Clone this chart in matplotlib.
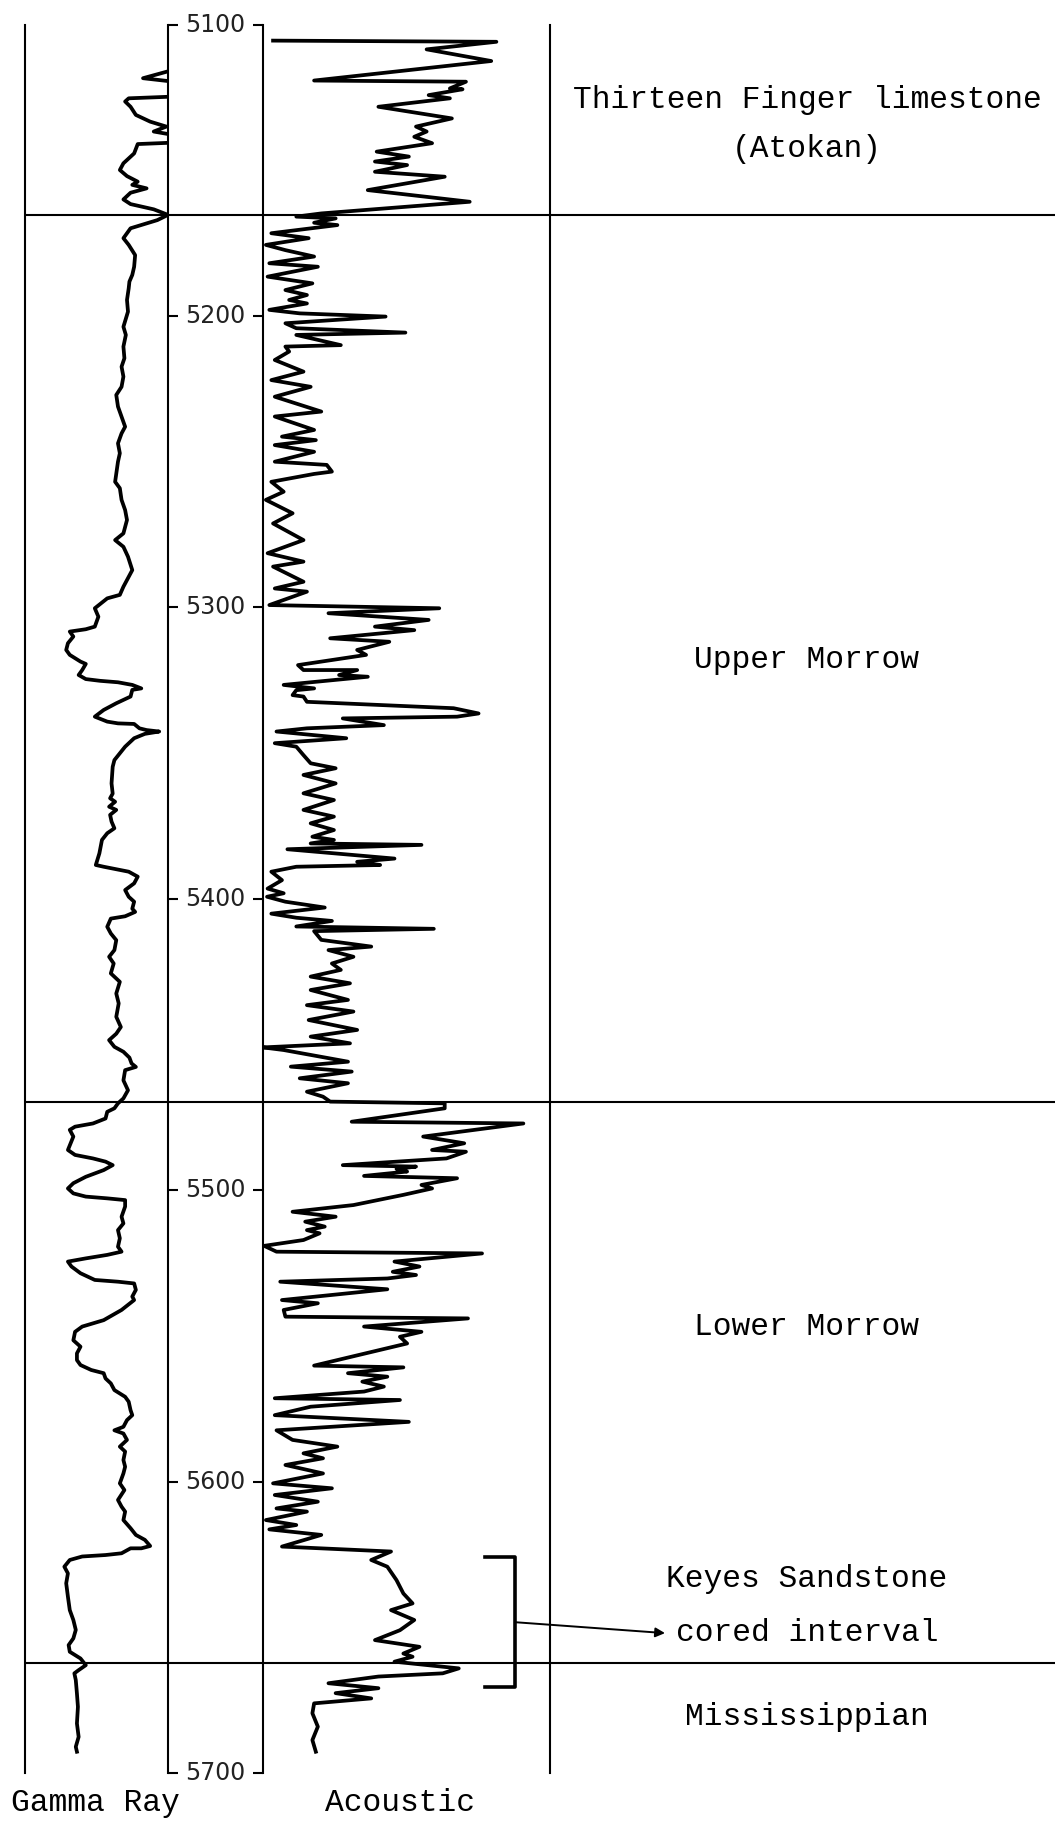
import matplotlib.pyplot as plt

gr_depth = [5116.2, 5118.4, 5119.6, 5124.7, 5125.3, 5126.4, 5128.2, 5131.0, 5133.3, 5135.0,
            5136.7, 5137.9, 5140.5, 5141.0, 5144.2, 5147.6, 5149.9, 5152.0, 5153.9, 5155.0,
            5156.2, 5157.7, 5160.0, 5161.6, 5163.4, 5165.3, 5167.1, 5169.9, 5173.3, 5175.6,
            5179.1, 5183.1, 5185.9, 5188.2, 5190.5, 5194.5, 5198.5, 5203.7, 5206.5, 5210.5,
            5214.5, 5217.4, 5220.8, 5224.3, 5227.1, 5231.1, 5234.5, 5238.0, 5240.3, 5243.7,
            5247.1, 5250.0, 5254.0, 5256.9, 5259.1, 5263.1, 5266.6, 5270.0, 5274.6, 5276.9,
            5279.2, 5282.6, 5287.2, 5289.5, 5292.9, 5295.7, 5296.9, 5300.3, 5303.2, 5306.6,
            5307.5, 5308.3, 5310.0, 5312.3, 5314.6, 5316.3, 5318.6, 5319.4, 5321.5, 5323.2,
            5324.6, 5325.2, 5325.7, 5326.6, 5327.8, 5328.3, 5330.6, 5332.9, 5335.2, 5337.5,
            5339.2, 5339.8, 5340.0, 5341.5, 5342.1, 5342.6, 5343.4, 5344.9, 5347.8, 5352.4,
            5354.7, 5360.4, 5363.9, 5365.5, 5366.7, 5368.4, 5369.5, 5371.2, 5373.5, 5375.8,
            5377.5, 5379.8, 5384.4, 5388.4, 5389.0, 5390.7, 5392.4, 5394.7, 5397.0, 5399.3,
            5401.0, 5403.4, 5404.5, 5406.0, 5406.8, 5409.6, 5411.9, 5414.2, 5417.6, 5419.9,
            5422.2, 5425.6, 5428.5, 5432.5, 5435.9, 5440.5, 5444.0, 5446.3, 5448.5, 5450.8,
            5452.5, 5454.5, 5456.5, 5457.7, 5458.8, 5462.3, 5465.7, 5468.5, 5470.2, 5471.9,
            5473.1, 5475.4, 5477.1, 5478.2, 5479.3, 5481.6, 5486.2, 5487.9, 5489.1, 5490.2,
            5491.4, 5493.1, 5495.4, 5497.6, 5499.4, 5501.1, 5502.2, 5502.8, 5503.4, 5505.6,
            5509.1, 5511.4, 5513.7, 5516.5, 5519.4, 5521.1, 5522.2, 5523.4, 5524.5, 5526.2,
            5528.5, 5530.8, 5531.4, 5532.0, 5534.2, 5536.5, 5537.7, 5541.1, 5544.6, 5546.8,
            5548.6, 5551.5, 5553.7, 5556.0, 5558.3, 5560.0, 5561.7, 5562.8, 5564.6, 5566.3,
            5568.6, 5570.9, 5572.6, 5575.5, 5577.2, 5578.9, 5581.2, 5582.4, 5583.5, 5585.7,
            5588.0, 5589.7, 5592.6, 5594.9, 5597.2, 5600.6, 5602.9, 5606.3, 5608.6, 5610.3,
            5613.2, 5616.0, 5618.3, 5620.0, 5622.1, 5622.9, 5622.9, 5624.6, 5625.2, 5625.7,
            5626.9, 5629.2, 5631.5, 5634.9, 5639.5, 5644.1, 5647.5, 5650.9, 5653.8, 5656.1,
            5658.4, 5660.7, 5663.0, 5664.7, 5665.8, 5668.1, 5672.7, 5677.3, 5683.0, 5687.6,
            5691.0, 5692.7]
gr_value = [98.8, 82.5, 104, 104, 72.5, 70, 73.8, 77.5, 87.5, 98.8,
            90, 104, 104, 78.8, 76.3, 68.8, 66.3, 71.3, 78.8, 75,
            85, 73.8, 68.8, 73.8, 90, 100, 92.5, 73.8, 68.8, 72.5,
            77, 76.3, 75, 73, 72.5, 71.3, 72, 68.8, 70.5, 68.8,
            69.5, 67.5, 68.8, 67.5, 63.8, 65, 67.5, 70, 67.5, 65,
            66.3, 65, 63.8, 63, 66.3, 67.5, 70, 71.3, 68.8, 63,
            68.8, 72, 75, 72.5, 68.8, 66.3, 57.5, 48.8, 51.3, 48.8,
            42.5, 31.3, 33.8, 30, 28.8, 31.3, 38.8, 42.5, 40, 37.5,
            42.5, 52.5, 65, 75, 81.3, 75, 73.8, 63.8, 55, 48.8,
            57.5, 65, 76.3, 80, 85, 93.8, 83.8, 76.3, 70, 62.5,
            61.3, 60.5, 61.3, 59.5, 63, 58.8, 63.8, 59.5, 60.5, 62.5,
            57.5, 53.8, 52, 49.5, 55, 72.5, 78.8, 76.3, 70, 72.5,
            76.3, 75, 77, 70, 60, 57.5, 60, 63.8, 62.5, 58.8,
            62, 60, 66.3, 63.8, 65.5, 63.8, 67, 63.8, 58.8, 62.5,
            68.8, 73, 74.5, 77.5, 70, 68.8, 72, 68.8, 65, 62.5,
            57.5, 56.3, 47.5, 35, 31.3, 33.8, 30, 35, 47.5, 56.3,
            61.3, 55, 42.5, 33.8, 30, 33.8, 42.5, 57.5, 70, 70,
            67.5, 68.8, 65, 66.3, 65, 67.5, 57.5, 42.5, 30, 32.5,
            38.8, 48.8, 65, 76.3, 77.5, 75, 76.3, 67.5, 55, 40,
            35, 33.8, 38.8, 36.3, 36.3, 38.8, 46.3, 55, 56.3, 60,
            62.5, 70, 72.5, 73.8, 75, 71.3, 68.8, 62.5, 68.8, 71.3,
            66.3, 70, 68.8, 70, 68.8, 66.3, 69.5, 65, 67.5, 70,
            68.8, 73.8, 77.5, 83.8, 87.5, 81.3, 73.8, 67.5, 56.3, 40,
            31.3, 27.5, 30, 28.8, 30, 31.3, 33.8, 35.5, 33.8, 30.5,
            31.3, 38.8, 42.5, 37.5, 34.5, 35.5, 36.3, 37, 36.3, 37.5,
            35.5, 36.3]

ac_depth = [5105.5, 5105.9, 5108.5, 5112.5, 5119.2, 5119.6, 5121.9, 5122.2, 5124.2, 5125.3,
            5128.2, 5132.2, 5135.0, 5136.7, 5138.5, 5140.7, 5143.6, 5145.3, 5147.0, 5148.2,
            5150.5, 5152.2, 5156.8, 5160.8, 5164.8, 5165.9, 5166.5, 5168.0, 5168.8, 5171.6,
            5173.3, 5175.6, 5177.4, 5179.6, 5181.9, 5183.1, 5186.5, 5188.8, 5191.1, 5192.8,
            5194.5, 5195.7, 5197.9, 5199.1, 5200.2, 5202.5, 5204.2, 5205.7, 5206.5, 5210.0,
            5210.5, 5212.2, 5215.1, 5219.1, 5222.0, 5224.3, 5227.7, 5232.8, 5234.5, 5239.1,
            5241.4, 5242.6, 5244.3, 5246.6, 5250.0, 5251.1, 5253.4, 5254.2, 5256.9, 5260.3,
            5263.1, 5267.7, 5271.2, 5276.9, 5281.4, 5284.3, 5286.0, 5291.2, 5293.5, 5294.6,
            5299.2, 5300.3, 5302.0, 5304.3, 5306.6, 5307.8, 5310.6, 5311.8, 5314.6, 5316.3,
            5319.8, 5321.5, 5321.5, 5323.2, 5323.8, 5326.6, 5327.8, 5328.4, 5330.1, 5330.6,
            5332.4, 5334.6, 5336.4, 5337.5, 5338.1, 5340.4, 5341.5, 5342.6, 5344.9, 5346.6,
            5347.8, 5350.7, 5353.5, 5355.2, 5357.5, 5360.4, 5363.8, 5366.1, 5369.5, 5371.8,
            5374.1, 5376.4, 5378.7, 5379.8, 5381.0, 5381.5, 5383.0, 5386.2, 5387.3, 5388.4,
            5389.0, 5390.7, 5393.6, 5396.5, 5398.1, 5399.3, 5401.0, 5403.0, 5405.1, 5406.5,
            5407.6, 5409.5, 5410.3, 5411.1, 5414.1, 5416.4, 5417.6, 5419.9, 5422.2, 5424.4,
            5426.7, 5429.0, 5431.3, 5434.7, 5436.5, 5438.7, 5441.6, 5445.0, 5447.3, 5449.6,
            5451.0, 5451.9, 5455.9, 5457.6, 5459.3, 5461.6, 5463.3, 5466.2, 5467.9, 5469.6,
            5470.2, 5471.9, 5476.5, 5477.1, 5481.6, 5483.9, 5486.2, 5486.8, 5489.1, 5491.4,
            5491.9, 5492.7, 5493.6, 5495.1, 5495.9, 5498.2, 5499.4, 5501.6, 5505.1, 5507.4,
            5509.1, 5510.8, 5512.5, 5513.7, 5514.8, 5517.1, 5519.1, 5521.1, 5521.7, 5524.5,
            5526.2, 5528.0, 5529.1, 5530.3, 5531.4, 5534.0, 5537.7, 5538.8, 5541.1, 5543.4,
            5544.0, 5546.8, 5548.6, 5550.3, 5552.6, 5560.2, 5560.8, 5562.8, 5564.0, 5565.7,
            5567.4, 5569.1, 5571.4, 5572.0, 5574.3, 5577.2, 5579.5, 5582.4, 5585.7, 5588.0,
            5590.3, 5592.0, 5594.3, 5597.2, 5600.6, 5602.3, 5604.6, 5606.9, 5609.2, 5610.3,
            5613.2, 5614.9, 5616.4, 5618.3, 5622.3, 5624.0, 5626.9, 5629.2, 5633.8, 5638.4,
            5641.8, 5644.1, 5647.5, 5651.0, 5654.4, 5656.7, 5659.0, 5660.1, 5661.8, 5664.1,
            5665.8, 5666.9, 5669.2, 5670.9, 5672.6, 5674.4, 5676.1, 5679.5, 5684.1, 5688.7,
            5692.7]
ac_value = [3.5, 81.3, 57, 79.5, 17.8, 70.7, 65.1, 69.5, 57.7, 65.1,
            40.2, 65.8, 53.3, 57, 52.7, 58.9, 39.6, 50.8, 39, 50.2,
            39, 63.3, 36.5, 72, 20.3, 11.6, 25.3, 17.8, 25.9, 2.9,
            15.9, 1, 7.8, 17.8, 2.2, 19.1, 1.6, 17.2, 7.8, 15.3,
            9.1, 15.3, 2.2, 12.8, 42.7, 7.8, 11.6, 49.6, 11.6, 27.1,
            7.8, 9.1, 4.1, 14.1, 2.9, 16.6, 4.1, 20.3, 4.1, 17.8,
            6.6, 18.4, 4.1, 17.8, 4.1, 22.2, 24, 17.8, 2.9, 7.2,
            1, 10.3, 3.5, 14.1, 1.6, 14.1, 3.5, 14.1, 4.1, 15.3,
            2.2, 61.4, 22.8, 57.7, 39, 52.7, 23.4, 44, 32.8, 35.9,
            12.2, 14.1, 32.8, 26.5, 36.5, 7.2, 17.8, 11.6, 10.3, 14.1,
            15.3, 66.4, 75.1, 67.6, 27.8, 42.1, 15.3, 4.7, 29, 4.1,
            11.6, 14.1, 16.6, 25.3, 14.1, 25.3, 14.1, 24.7, 14.1, 24.7,
            16.6, 24.7, 17.2, 24.7, 16.6, 55.2, 8.5, 45.8, 32.8, 40.8,
            11.6, 2.9, 6.6, 1.6, 7.2, 1.4, 7.8, 21.5, 2.9, 11.6,
            24, 11.6, 59.5, 17.8, 20.3, 37.7, 22.8, 31.5, 24, 27.1,
            16.6, 30.3, 16.6, 29.6, 15.3, 31.5, 15.9, 32.8, 16.6, 30.3,
            0, 7.2, 29.6, 9.7, 30.9, 12.8, 29.6, 15.3, 20.9, 23.4,
            63.3, 63.3, 30.9, 90.7, 55.8, 70.1, 58.9, 70.7, 63.9, 27.8,
            53.3, 46.5, 50.2, 35.2, 67.6, 55.2, 58.9, 48.9, 31.5, 10.3,
            25.3, 14.7, 21.5, 15.3, 19.7, 14.1, 0.4, 4.7, 76.3, 45.8,
            54.5, 45.2, 53.3, 43.3, 6, 43.3, 6.6, 19.1, 7.2, 7.8,
            71.4, 35.2, 55.2, 47.7, 50.2, 17.8, 48.9, 29.6, 43.3, 34.6,
            42.1, 35.2, 4.1, 47.7, 16.6, 4.1, 50.8, 4.7, 10.3, 25.9,
            14.1, 20.9, 7.8, 20.9, 3.5, 24, 4.1, 19.1, 4.7, 15.3,
            1, 11.6, 2.2, 20.3, 6.6, 44.6, 37.7, 43.3, 46.5, 48.9,
            52.1, 44.6, 52.7, 47.7, 39, 54.5, 48.9, 52.1, 45.8, 68.2,
            62.6, 40.2, 22.8, 40.2, 25.3, 37.7, 17.8, 17.2, 19.1, 17.2,
            18.4]

depth_ticks = [5100, 5200, 5300, 5400, 5500, 5600, 5700]
formation_tops = [5165.3, 5469.7, 5662.3]
core_top, core_base = 5626.0, 5670.5

mono = ['Liberation Mono', 'DejaVu Sans Mono']

fig = plt.figure(figsize=(10.58, 18.23), dpi=100)
bottom, height = 0.02743, 0.95908

# background axes carrying the formation boundaries and zone names
ax_bg = fig.add_axes([0.02363, bottom, 0.9735, height])
ax_bg.set_ylim(5700, 5100)
ax_bg.set_xlim(0, 1)
ax_bg.axis('off')
ax_bg.hlines(formation_tops, 0, 1, color='black', lw=1.5)

ax_gr = fig.add_axes([0.02363, bottom, 0.1352, height])
ax_dp = fig.add_axes([0.1588, bottom, 0.0898, height])
ax_ac = fig.add_axes([0.2486, bottom, 0.2713, height])

for ax in (ax_gr, ax_dp, ax_ac):
    ax.set_ylim(5700, 5100)
    ax.set_facecolor('none')
    ax.set_xticks([])
    ax.spines['top'].set_visible(False)
    ax.spines['bottom'].set_visible(False)
    for s in ax.spines.values():
        s.set_linewidth(1.5)

ax_gr.set_xlim(0, 100)
ax_gr.set_yticks([])
ax_gr.spines['right'].set_visible(False)
ax_gr.plot(gr_value, gr_depth, color='black', lw=2.7, solid_joinstyle='round')

ax_ac.set_xlim(0, 100)
ax_ac.set_yticks([])
ax_ac.spines['left'].set_visible(False)
ax_ac.plot(ac_value, ac_depth, color='black', lw=2.7, solid_joinstyle='round')

# depth column: inward ticks on both sides, numbers in the middle
ax_dp.set_xlim(0, 1)
ax_dp.set_yticks(depth_ticks)
ax_dp.set_yticklabels([])
ax_dp.tick_params(axis='y', direction='in', left=True, right=True, length=7, width=1.5)
for d in depth_ticks:
    ax_dp.text(0.5, d, str(d), ha='center', va='center', fontsize=17, color='#222222',
               family='DejaVu Sans')

# zone names
tx = 0.7592
ax_bg.text(tx, 5126.0, 'Thirteen Finger limestone', ha='center', va='center', fontsize=22.5, family=mono)
ax_bg.text(tx, 5142.7, '(Atokan)', ha='center', va='center', fontsize=22.5, family=mono)
ax_bg.text(tx, 5318.0, 'Upper Morrow', ha='center', va='center', fontsize=22.5, family=mono)
ax_bg.text(tx, 5547.0, 'Lower Morrow', ha='center', va='center', fontsize=22.5, family=mono)
ax_bg.text(tx, 5633.4, 'Keyes Sandstone', ha='center', va='center', fontsize=22.5, family=mono)
ax_bg.text(tx, 5652.0, 'cored interval', ha='center', va='center', fontsize=22.5, family=mono)
ax_bg.text(tx, 5680.8, 'Mississippian', ha='center', va='center', fontsize=22.5, family=mono)
ax_bg.text(0.068, 5710.3, 'Gamma Ray', ha='center', va='center', fontsize=22.5, family=mono)
ax_bg.text(0.364, 5710.3, 'Acoustic', ha='center', va='center', fontsize=22.5, family=mono)

# bracket for the cored interval and arrow to its label
tr = ax_bg.get_yaxis_transform()
ax_bg.plot([0.4466, 0.4757, 0.4757, 0.4466], [core_top, core_top, core_base, core_base],
           transform=tr, color='black', lw=2.6, clip_on=False)
ax_bg.annotate('', xy=(0.6214, 5652.0), xycoords=tr,
               xytext=(0.4757, (core_top + core_base) / 2), textcoords=tr,
               arrowprops=dict(arrowstyle='-|>', color='black', lw=1.4, mutation_scale=14,
                               shrinkA=0, shrinkB=0))

plt.savefig('out.png', dpi=100, facecolor='white')
